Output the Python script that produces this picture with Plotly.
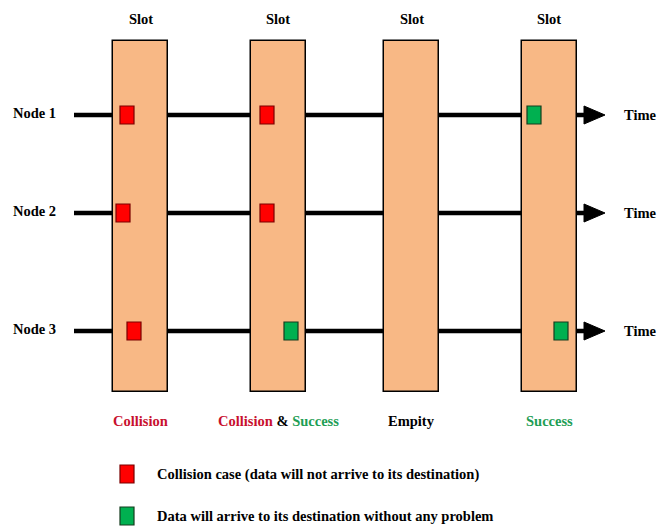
import plotly.graph_objects as go

# ---- data ----
slot_labels = ["Slot", "Slot", "Slot", "Slot"]
slot_centers = [140.5, 278, 411.5, 549]          # time position of each slot
slot_outcomes = [
    "<span style='color:#C8102E'>Collision</span>",
    "<span style='color:#C8102E'>Collision</span> & <span style='color:#1E9E55'>Success</span>",
    "Empity",
    "<span style='color:#1E9E55'>Success</span>",
]
node_labels = ["Node 1", "Node 2", "Node 3"]
node_levels = [115, 213, 331]

packet_node = [0, 0, 0, 1, 1, 2, 2, 2]
packet_time = [127, 267, 534, 123, 267, 134, 291, 561]
packet_status = ["collision", "collision", "success",
                 "collision", "collision",
                 "collision", "success", "success"]

legend_status = ["collision", "success"]
legend_texts = ["Collision case (data will not arrive to its destination)",
                "Data will arrive to its destination without any problem"]

# ---- styles ----
FONT = "Liberation Serif, Times New Roman, serif"
FS = 14.5
SLOT_FILL = "#F8B885"
FILL = {"collision": "#FF0000", "success": "#00B050"}
EDGE = {"collision": "#7A0000", "success": "#143C1E"}

fig = go.Figure()

# slots as bars (drawn beneath the packets, above the time lines)
fig.add_trace(go.Bar(
    x=slot_centers, y=[351] * len(slot_centers), base=[41] * len(slot_centers),
    width=55, marker=dict(color=SLOT_FILL, line=dict(color="black", width=1.5)),
    hoverinfo="skip", showlegend=False))

shapes = []
annotations = []

# time lines (below traces) and arrow heads
for lvl in node_levels:
    shapes.append(dict(type="line", layer="below", xref="x", yref="y",
                       x0=74, x1=588, y0=lvl, y1=lvl,
                       line=dict(color="black", width=4.5)))
    shapes.append(dict(type="path", layer="above", xref="x", yref="y",
                       xsizemode="pixel", ysizemode="pixel",
                       xanchor=584, yanchor=lvl,
                       path="M0,9 L21,0 L0,-9 Z",
                       fillcolor="black", line=dict(color="black", width=1)))

# packets
for n, t, s in zip(packet_node, packet_time, packet_status):
    shapes.append(dict(type="rect", layer="above", xref="x", yref="y",
                       xsizemode="pixel", ysizemode="pixel",
                       xanchor=t, yanchor=node_levels[n],
                       x0=-7, x1=7, y0=-9, y1=9,
                       fillcolor=FILL[s], line=dict(color=EDGE[s], width=1.2)))

# legend squares
legend_levels = [474, 516]
for s, lvl, txt in zip(legend_status, legend_levels, legend_texts):
    shapes.append(dict(type="rect", layer="above", xref="x", yref="y",
                       xsizemode="pixel", ysizemode="pixel",
                       xanchor=127, yanchor=lvl,
                       x0=-7, x1=7, y0=-9, y1=9,
                       fillcolor=FILL[s], line=dict(color=EDGE[s], width=1.2)))
    annotations.append(dict(x=155, y=lvl, xref="x", yref="y", text="<b>" + txt + "</b>",
                            showarrow=False, xanchor="left", yanchor="middle",
                            font=dict(family=FONT, size=FS, color="black")))

# slot labels and outcomes
for c, lab, out in zip(slot_centers, slot_labels, slot_outcomes):
    annotations.append(dict(x=c, y=19, xref="x", yref="y", text="<b>" + lab + "</b>",
                            showarrow=False, xanchor="center", yanchor="middle",
                            font=dict(family=FONT, size=FS, color="black")))
    annotations.append(dict(x=c, y=421, xref="x", yref="y", text="<b>" + out + "</b>",
                            showarrow=False, xanchor="center", yanchor="middle",
                            font=dict(family=FONT, size=FS, color="black")))

# node labels and time labels
for lab, lvl in zip(node_labels, node_levels):
    annotations.append(dict(x=58, y=lvl - 2, xref="x", yref="y", text="<b>" + lab + "</b>",
                            showarrow=False, xanchor="right", yanchor="middle",
                            font=dict(family=FONT, size=FS, color="black")))
    annotations.append(dict(x=622, y=lvl, xref="x", yref="y", text="<b>Time</b>",
                            showarrow=False, xanchor="left", yanchor="middle",
                            font=dict(family=FONT, size=FS, color="black")))

fig.update_layout(
    width=667, height=527,
    margin=dict(l=0, r=0, t=0, b=0),
    paper_bgcolor="white", plot_bgcolor="white",
    xaxis=dict(range=[0, 667], visible=False, fixedrange=True),
    yaxis=dict(range=[527, 0], visible=False, fixedrange=True),
    shapes=shapes, annotations=annotations,
    showlegend=False, bargap=0,
)

fig.write_html(
    "out.html",
    config={"displayModeBar": False},
    post_script="document.body.style.margin='0';document.body.style.overflow='hidden';",
)
